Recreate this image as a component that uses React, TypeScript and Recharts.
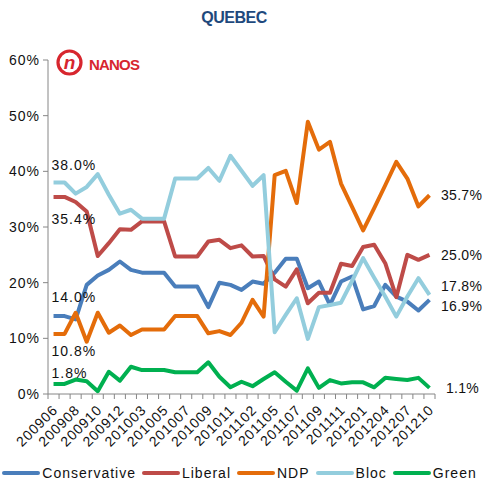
import React from 'react';
import { LineChart, Line, XAxis, YAxis, Legend, LabelList } from 'recharts';

// Quebec vote intention, Nanos polling, June 2009 - October 2012
const periods = [
  '200906', '200907', '200908', '200909', '200910', '200911', '200912', '201001', '201003',
  '201004', '201005', '201006', '201007', '201008', '201009', '201010', '201011', '201012',
  '201102', '201104', '201105', '201106', '201107', '201108', '201109', '201110', '201111',
  '201112', '201201', '201203', '201204', '201206', '201207', '201209', '201210',
];

const conservative = [
  14.0, 14.0, 13.4, 19.6, 21.3, 22.3, 23.8, 22.3, 21.8, 21.8, 21.8, 19.3, 19.3, 19.3, 15.6, 20.0, 19.6, 18.7,
  20.2, 19.8, 21.8, 24.3, 24.3, 19.0, 20.2, 16.0, 20.2, 21.1, 15.2, 15.8, 19.6, 17.5, 16.6, 15.0, 16.9,
];
const liberal = [
  35.4, 35.4, 34.5, 32.8, 24.8, 27.1, 29.6, 29.5, 31.0, 31.0, 31.0, 24.7, 24.7, 24.7, 27.4, 27.7, 26.2, 26.7,
  24.7, 24.8, 20.6, 19.3, 22.4, 16.3, 18.2, 18.2, 23.4, 23.0, 26.4, 26.8, 23.5, 17.4, 25.0, 24.1, 25.0,
];
const ndp = [
  10.8, 10.8, 14.6, 9.4, 14.6, 11.0, 12.3, 10.6, 11.6, 11.6, 11.6, 14.0, 14.0, 14.0, 10.9, 11.3, 10.6, 12.8,
  16.9, 13.9, 39.3, 40.1, 34.3, 48.9, 43.9, 45.3, 37.8, 33.6, 29.4, 33.4, 37.5, 41.7, 38.7, 33.7, 35.7,
];
const bloc = [
  38.0, 38.0, 36.0, 37.2, 39.5, 35.8, 32.4, 33.1, 31.5, 31.5, 31.5, 38.7, 38.7, 38.7, 40.6, 38.3, 42.8, 40.1,
  37.4, 39.3, 11.1, 14.2, 17.2, 9.9, 15.6, 16.0, 16.4, 20.3, 24.4, 20.9, 17.5, 13.9, 17.5, 20.8, 17.8,
];
const green = [
  1.8, 1.8, 2.6, 2.3, 0.5, 4.0, 2.4, 4.9, 4.3, 4.3, 4.3, 3.9, 3.9, 3.9, 5.7, 3.1, 1.2, 2.2,
  1.4, 2.7, 3.9, 2.2, 0.6, 4.6, 1.1, 2.5, 1.9, 2.1, 2.1, 1.2, 2.9, 2.7, 2.5, 2.9, 1.1,
];

const yTicks = [0, 10, 20, 30, 40, 50, 60];

const FONT = '"Liberation Sans", Arial, sans-serif';
const AXIS = '#868686';
const WIDTH = 483;
const HEIGHT = 481;
const PLOT_LEFT = 48;
const PLOT_RIGHT = 48;
const HALF_BAND = (WIDTH - PLOT_LEFT - PLOT_RIGHT) / periods.length / 2;

const series = [
  { name: 'Conservative', values: conservative, color: '#4A7EBB', first: { dx: -2, dy: -14 }, last: { dx: 11.5, dy: 11 } },
  { name: 'Liberal', values: liberal, color: '#BE4B48', first: { dx: -2, dy: 27 }, last: { dx: 11.5, dy: 5 } },
  { name: 'NDP', values: ndp, color: '#E46C0A', first: { dx: -2, dy: 22 }, last: { dx: 11.5, dy: 5 } },
  { name: 'Bloc', values: bloc, color: '#93CDDD', first: { dx: -2, dy: -12.5 }, last: { dx: 11.5, dy: -4 } },
  { name: 'Green', values: green, color: '#00B050', first: { dx: -2, dy: -6 }, last: { dx: 16.5, dy: 5 } },
];

const data = periods.map((period, i) => {
  const row: Record<string, string | number> = { period };
  series.forEach((s) => { row[s.name] = s.values[i]; });
  return row;
});

// first / last value labels beside each line
function edgeLabel(s: typeof series[number]) {
  return (props: any) => {
    const { x, y, value, index } = props;
    const isLast = index === periods.length - 1;
    let off = null;
    if (index === 0) off = s.first;
    if (isLast) off = s.last;
    if (!off) return null;
    return (
      <text x={x + off.dx} y={y + off.dy} fontSize={14} fontFamily={FONT} fill="#111" letterSpacing={isLast ? 0.3 : 1} textAnchor="start">
        {`${Number(value).toFixed(1)}%`}
      </text>
    );
  };
}

function PeriodTick(props: any) {
  const { x, y, payload } = props;
  const i = payload.index;
  const ax = x + 5;
  const ay = y + 17;
  return (
    <g>
      <line x1={x - HALF_BAND} x2={x - HALF_BAND} y1={y} y2={y + 5} stroke={AXIS} />
      {i === periods.length - 1 && <line x1={x + HALF_BAND} x2={x + HALF_BAND} y1={y} y2={y + 5} stroke={AXIS} />}
      {i % 2 === 0 && (
        <text x={ax} y={ay} transform={`rotate(-45 ${ax} ${ay})`} textAnchor="end" fontSize={14} fontFamily={FONT} fill="#111" letterSpacing={0.8}>
          {payload.value}
        </text>
      )}
    </g>
  );
}

function LegendRow() {
  return (
    <div style={{ display: 'flex', justifyContent: 'center', alignItems: 'center', gap: 6, fontFamily: FONT, fontSize: 14, letterSpacing: 1, color: '#111', height: 16, marginLeft: -4 }}>
      {series.map((s) => (
        <div key={s.name} style={{ display: 'flex', alignItems: 'center', gap: 2 }}>
          <div style={{ width: 38, height: 4, background: s.color, borderRadius: 2 }} />
          <span>{s.name}</span>
        </div>
      ))}
    </div>
  );
}

function NanosLogo() {
  return (
    <svg width={160} height={40} style={{ position: 'absolute', left: 50, top: 45 }}>
      <circle cx={19.5} cy={17.5} r={11.5} fill="none" stroke="#D7262E" strokeWidth={3.2} />
      <text x={19.5} y={24} textAnchor="middle" fontSize={19} fontWeight="bold" fontStyle="italic" fontFamily={FONT} fill="#D7262E">n</text>
      <text x={39} y={25} fontSize={15} fontWeight="bold" fontFamily={FONT} fill="#D7262E" letterSpacing={-0.8}>NANOS</text>
    </svg>
  );
}

export default function App() {
  return (
    <div style={{ position: 'absolute', left: 0, top: 0, width: WIDTH, height: HEIGHT, background: '#fff' }}>
      <div style={{ position: 'absolute', left: 0, top: 9, width: 468, textAlign: 'center', fontFamily: FONT, fontWeight: 'bold', fontSize: 16, letterSpacing: -0.5, color: '#1F497D' }}>
        QUEBEC
      </div>
      <LineChart width={WIDTH} height={HEIGHT} data={data} margin={{ top: 60, right: PLOT_RIGHT, left: 0, bottom: 0 }}>
        <XAxis
          dataKey="period"
          interval={0}
          tickSize={0}
          tickMargin={0}
          height={71}
          padding={{ left: HALF_BAND, right: HALF_BAND }}
          stroke={AXIS}
          tick={<PeriodTick />}
        />
        <YAxis
          width={PLOT_LEFT}
          domain={[0, 60]}
          ticks={yTicks}
          tickFormatter={(v) => `${v}%`}
          tickSize={5}
          tickMargin={3}
          stroke={AXIS}
          tick={{ fontSize: 14, fill: '#111', fontFamily: FONT, letterSpacing: 1 }}
        />
        <Legend verticalAlign="bottom" height={16} wrapperStyle={{ left: 0, width: WIDTH }} content={() => <LegendRow />} />
        {series.map((s) => (
          <Line
            key={s.name}
            type="linear"
            dataKey={s.name}
            stroke={s.color}
            strokeWidth={4}
            strokeLinejoin="round"
            dot={false}
            activeDot={false}
            isAnimationActive={false}
          >
            <LabelList dataKey={s.name} content={edgeLabel(s)} />
          </Line>
        ))}
      </LineChart>
      <NanosLogo />
    </div>
  );
}
